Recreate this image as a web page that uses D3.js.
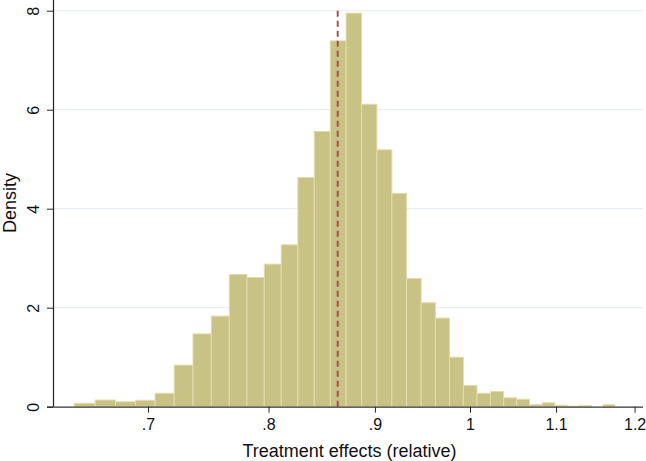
<!DOCTYPE html>
<html>
<head>
<meta charset="utf-8">
<script src="https://cdn.jsdelivr.net/npm/d3@7"></script>
<style>
  html, body { margin: 0; padding: 0; background: #fff; }
  svg { display: block; font-family: "Liberation Sans", Arial, Helvetica, sans-serif; }
</style>
</head>
<body>
<svg id="chart" width="646" height="461"></svg>
<script>
// Histogram definition (bins of equal width in value units)
const binStart = 0.6451;
const binWidth = 0.01511;
// Density of each bin
const densities = [0.07, 0.135, 0.10, 0.13, 0.27, 0.84, 1.47, 1.83, 2.67, 2.61,
                   2.88, 3.27, 4.63, 5.56, 7.39, 7.95, 6.11, 5.19, 4.31, 2.59,
                   2.10, 1.79, 1.00, 0.43, 0.27, 0.31, 0.18, 0.15, 0.04, 0.08,
                   0.03, 0.01, 0.02, 0.00, 0.04];
const xTicks = [0.7, 0.8, 0.9, 1.0, 1.1, 1.2];
const xTickLabels = [".7", ".8", ".9", "1", "1.1", "1.2"];
const yTicks = [0, 2, 4, 6, 8];
const refLine = 0.8637;
const xTitle = "Treatment effects (relative)";
const yTitle = "Density";

const bins = densities.map((d, i) => ({
  x0: binStart + i * binWidth,
  x1: binStart + (i + 1) * binWidth,
  d: d
}));

const svg = d3.select("#chart");
const mLeft = 53, mRight = 643, mTop = 0, mBottom = 406.7;

const x = d3.scaleLog().domain([0.6301, 1.2112]).range([mLeft, mRight]);
const y = d3.scaleLinear().domain([0, 8.216]).range([mBottom, mTop]);

// gridlines
svg.append("g").selectAll("line")
  .data(yTicks.filter(t => t > 0))
  .join("line")
  .attr("x1", mLeft).attr("x2", mRight)
  .attr("y1", d => y(d)).attr("y2", d => y(d))
  .attr("stroke", "#e4ecef").attr("stroke-width", 1);

// bars
svg.append("g").selectAll("rect")
  .data(bins.filter(b => b.d > 0))
  .join("rect")
  .attr("x", b => x(b.x0))
  .attr("width", b => x(b.x1) - x(b.x0))
  .attr("y", b => y(b.d))
  .attr("height", b => y(0) - y(b.d))
  .attr("fill", "#c9c285")
  .attr("stroke", "#e2dcab")
  .attr("stroke-width", 1);

// reference dashed line
svg.append("line")
  .attr("x1", x(refLine)).attr("x2", x(refLine))
  .attr("y1", y(8)).attr("y2", y(0))
  .attr("stroke", "#a0524b")
  .attr("stroke-width", 2)
  .attr("stroke-dasharray", "6,4");

// x axis
const xAxis = d3.axisBottom(x)
  .tickValues(xTicks)
  .tickFormat((d, i) => xTickLabels[i])
  .tickSize(6)
  .tickPadding(6);
const gx = svg.append("g").attr("transform", `translate(0,${mBottom})`).call(xAxis);
gx.select(".domain").attr("stroke", "#333").attr("stroke-width", 1.2)
  .attr("d", `M${mLeft - 6},0.5H${mRight}`);
gx.selectAll(".tick line").attr("stroke", "#222");
gx.selectAll(".tick text").attr("font-size", 16).attr("fill", "#111")
  .attr("font-family", "Liberation Sans, Arial, sans-serif");

// y axis
const yAxis = d3.axisLeft(y)
  .tickValues(yTicks)
  .tickFormat(d3.format("d"))
  .tickSize(6)
  .tickPadding(0);
const gy = svg.append("g").attr("transform", `translate(${mLeft},0)`).call(yAxis);
gy.select(".domain").attr("stroke", "#222").attr("stroke-width", 1.2)
  .attr("d", `M0.5,${mTop}V${mBottom}`);
gy.selectAll(".tick line").attr("stroke", "#222");
gy.selectAll(".tick text")
  .attr("font-size", 16).attr("fill", "#111")
  .attr("font-family", "Liberation Sans, Arial, sans-serif")
  .attr("x", null).attr("dy", null)
  .attr("text-anchor", "middle")
  .attr("transform", "translate(-14,0) rotate(-90)")
  .attr("y", 0);

// axis titles
svg.append("text")
  .attr("x", (239 + 460) / 2).attr("y", 456.5)
  .attr("text-anchor", "middle")
  .attr("font-size", 18).attr("fill", "#111")
  .text(xTitle);

svg.append("text")
  .attr("transform", "translate(15.5,203) rotate(-90)")
  .attr("text-anchor", "middle")
  .attr("font-size", 18).attr("fill", "#111")
  .text(yTitle);
</script>
</body>
</html>
